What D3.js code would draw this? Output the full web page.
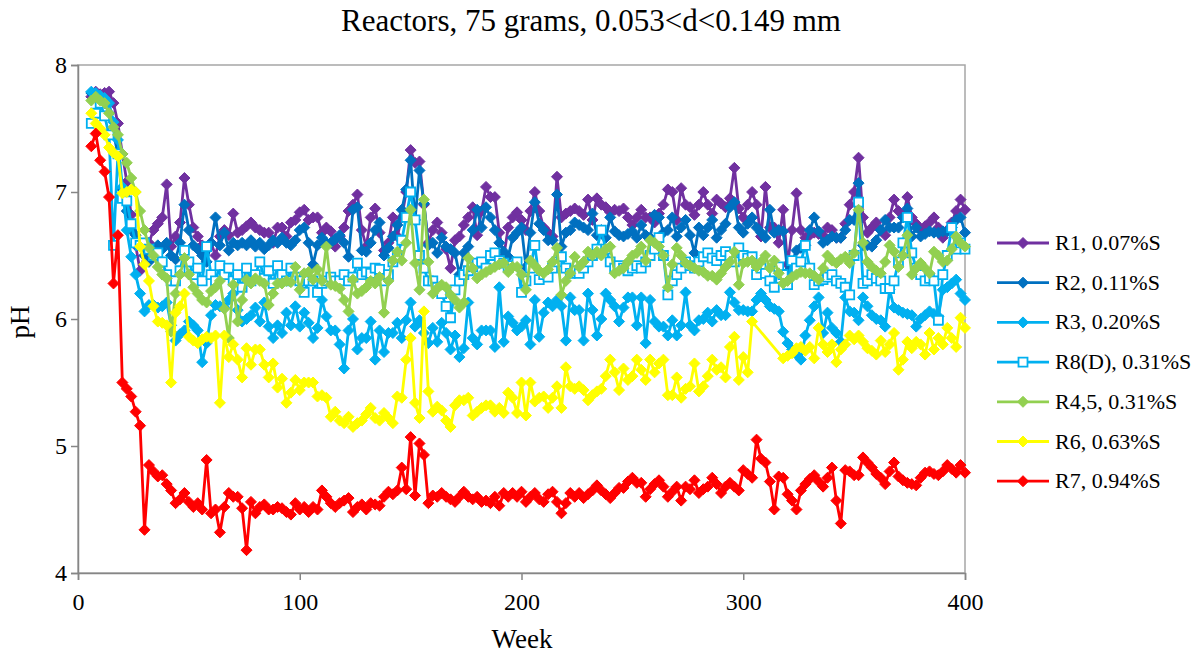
<!DOCTYPE html>
<html>
<head>
<meta charset="utf-8">
<script src="https://cdn.jsdelivr.net/npm/d3@7/dist/d3.min.js"></script>
<style>
  body { margin: 0; background: #fff; }
  text { font-family: "Liberation Serif", "Times New Roman", serif; fill: #000; }
</style>
</head>
<body>
<script>
// dimensions
var width = 1195;
var height = 658;

// sampling grid: weeks 6 .. 400, every 2 weeks
var weeks = d3.range(6, 401, 2);

var xTicks = [0, 100, 200, 300, 400];
var yTicks = [4, 5, 6, 7, 8];

// pH readings, one per week in the grid (null = no reading)
var r1 = [
  7.75, 7.79, 7.77, 7.78, 7.79, 7.7, 7.54, 7.3, 7.08, 6.82,
  6.58, 6.38, 6.5, 6.6, 6.7, 6.75, 6.8, 7.06, 6.57, 6.65,
  6.76, 7.11, 6.9, 6.72, 6.65, 6.58, 6.55, 6.6, 6.5, 6.65,
  6.7, 6.66, 6.83, 6.68, 6.7, 6.73, 6.76, 6.72, 6.7, 6.68,
  6.68, 6.6, 6.72, 6.72, 6.65, 6.76, 6.78, 6.84, 6.86, 6.78,
  6.8, 6.8, 6.68, 6.72, 6.69, 6.57, 6.65, 6.72, 6.85, 6.9,
  6.98, 6.7, 6.57, 6.8, 6.87, 6.68, 6.54, 6.6, 6.8, 6.65,
  6.8, 7.0, 7.33, 7.23, 7.24, 6.9, 6.6, 6.7, 6.76, 6.68,
  6.55, 6.4, 6.62, 6.65, 6.74, 6.8, 6.88, 6.66, 6.85, 7.04,
  6.96, 6.96, 6.68, 6.49, 6.72, 6.8, 6.84, 6.78, 6.7, 6.85,
  7.0, 6.85, 6.72, 6.68, 6.65, 7.12, 6.8, 6.83, 6.85, 6.87,
  6.85, 6.82, 6.94, 6.78, 6.95, 6.9, 6.88, 6.84, 6.86, 6.85,
  6.87, 6.8, 6.74, 6.8, 6.86, 6.8, 6.8, 6.76, 6.83, 6.9,
  7.02, 7.0, 6.78, 7.03, 6.9, 6.88, 6.82, 6.9, 7.0, 6.9,
  6.83, 6.94, 6.91, 6.88, 6.95, 7.19, 6.87, 6.8, 6.9, 7.0,
  6.9, 6.65, 7.04, 6.72, 6.72, 6.6, 6.86, 6.43, 6.7, 6.99,
  6.7, 6.64, 6.66, 6.68, 6.67, 6.66, 6.72, 6.7, 6.64, 6.64,
  6.75, 6.9, 7.0, 7.27, 6.8, 6.68, 6.72, 6.76, 6.7, 6.66,
  6.8, 6.94, 6.85, 6.8, 6.96, 6.8, 6.75, 6.7, 6.73, 6.76,
  6.8, 6.72, 6.64, 6.7, 6.76, 6.85, 6.94, 6.86
];

var r2 = [
  7.78, 7.76, 7.75, 7.7, 7.62, 7.46, 7.3, 7.02, 6.85, 6.7,
  6.66, 6.58, 6.5, 6.45, 6.52, 6.58, 6.55, 6.6, 6.5, 6.47,
  6.6, 6.9, 6.7, 6.58, 6.55, 6.5, 6.45, 6.6, 6.8, 6.58,
  6.68, 6.54, 6.6, 6.58, 6.6, 6.58, 6.62, 6.57, 6.6, 6.55,
  6.58, 6.62, 6.6, 6.64, 6.6, 6.58, 6.62, 6.7, 6.72, 6.6,
  6.43, 6.58, 6.64, 6.6, 6.6, 6.63, 6.66, 6.6, 6.49, 6.86,
  6.88, 6.54, 6.53, 6.6, 6.7, 6.76, 6.5, 6.56, 6.65, 6.74,
  6.86, 7.02, 7.25, 6.78, 7.17, 6.91, 6.58, 6.6, 6.52, 6.64,
  6.57, 6.55, 6.52, 6.35, 6.52, 6.57, 6.7, 6.86, 6.72, 6.88,
  6.8, 6.7, 6.6, 6.53, 6.49, 6.64, 6.68, 6.72, 6.41, 6.68,
  6.92, 6.75, 6.7, 6.62, 6.62, 6.98, 6.57, 6.68, 6.7, 6.76,
  6.74, 6.72, 6.7, 6.83, 6.66, 6.7, 6.64, 6.8, 6.69, 6.66,
  6.65, 6.67, 6.69, 6.64, 6.74, 6.66, 6.64, 6.82, 6.8, 6.68,
  6.7, 6.8, 6.65, 6.72, 6.78, 6.66, 6.52, 6.72, 6.66, 6.72,
  6.78, 6.64, 6.7, 6.75, 6.88, 6.92, 6.72, 6.68, 6.75, 6.8,
  6.72, 6.68, 6.64, 6.86, 6.68, 6.7, 6.69, 6.37, 6.45, 6.54,
  6.56, 6.58, 6.7, 6.8, 6.69, 6.6, 6.62, 6.65, 6.64, 6.64,
  6.7, 6.78, 6.78, 7.07, 6.58, 6.58, 6.57, 6.62, 6.7, 6.78,
  6.72, 6.72, 6.72, 6.8, 6.87, 6.65, 6.72, 6.65, 6.67, 6.69,
  6.68, 6.68, 6.69, 6.69, 6.72, 6.78, 6.8, 6.68
];

var r3 = [
  7.79, 7.78, 7.76, 7.74, 7.7, 7.55, 7.41, 7.04, 6.7, 6.49,
  6.35, 6.2, 6.06, 6.11, 6.11, 6.09, 6.1, 6.13, 5.95, 5.83,
  5.88, 5.91, 5.98, 5.95, 5.91, 5.66, 5.81, 6.03, 6.11, 6.1,
  6.09, 6.15, 6.2, 6.07, 5.98, 6.0, 6.03, 6.09, 5.98, 6.13,
  5.94, 5.85, 5.95, 5.89, 6.05, 5.95, 6.1, 5.94, 6.05, 5.97,
  5.85, 5.93, 6.15, 6.02, 5.91, 5.91, 5.8, 5.61, 5.91, 6.0,
  5.76, 5.85, 5.85, 5.98, 5.68, 5.91, 5.74, 5.89, 5.89, 5.97,
  5.85, 5.99, 6.13, 5.94, 5.99, 5.89, 5.81, 5.93, 5.82, 5.97,
  5.89, 5.76, 5.87, 5.7, 5.77, 6.13, 5.85, 5.8, 5.91, 5.91,
  5.91, 5.78, 6.25, 5.82, 6.02, 5.97, 5.91, 5.94, 5.99, 5.8,
  6.15, 5.86, 6.05, 6.13, 6.1, 6.15, 6.1, 5.83, 6.17, 6.07,
  6.07, 5.83, 6.2, 6.07, 5.87, 6.0, 6.2, 6.15, 6.1, 5.98,
  6.09, 6.17, 6.17, 5.95, 6.17, 5.81, 6.15, 5.98, 5.94, 5.94,
  5.87, 5.99, 5.87, 5.95, 6.21, 5.95, 5.91, 5.99, 6.0, 6.05,
  5.98, 6.07, 6.03, 6.03, 6.21, 6.13, 6.07, 6.07, 6.06, 6.06,
  6.15, 6.2, 6.15, 6.1, 6.08, 6.06, 5.9, 5.81, 5.76, 5.72,
  5.68, 5.87, 5.99, 6.1, 6.17, 5.89, 6.05, 5.93, 5.89, 5.82,
  6.17, 6.06, 6.05, 5.99, 6.17, 6.1, 6.03, 6.0, 5.99, 5.94,
  6.23, 6.09, 6.07, 6.05, 6.04, 6.03, 5.94, 6.0, 6.03, 6.06,
  6.04, 6.02, 6.23, 6.25, 6.28, 6.31, 6.2, 6.15
];

var r8 = [
  7.54, 7.62, 7.7, 7.6, 7.45, 6.58, 7.3, 6.95, 6.93, 6.75,
  6.6, 6.58, 6.6, 6.55, 6.5, 6.52, 6.45, 6.35, 6.3, 6.3,
  6.38, 6.54, 6.45, 6.35, 6.4, 6.3, 6.57, 6.35, 6.3, 6.42,
  6.35, 6.4, 6.3, 6.35, 6.25, 6.4, 6.3, 6.35, 6.45, 6.32,
  6.38, 6.28, 6.42, 6.35, 6.3, 6.4, 6.33, 6.3, 6.21, 6.3,
  6.3, 6.21, 6.28, 6.3, 6.33, 6.3, 6.3, 6.35, 6.3, 6.33,
  6.44, 6.35, 6.37, 6.36, 6.4, 6.39, 6.3, 6.35, 6.45, 6.5,
  6.62, 6.8, 7.0, 6.78, 6.5, 6.4, 6.3, 6.3, 6.25, 6.2,
  6.1, 6.01, 6.23, 6.3, 6.35, 6.38, 6.41, 6.44, 6.45, 6.4,
  6.5, 6.52, 6.46, 6.44, 6.41, 6.42, 6.45, 6.21, 6.3, 6.4,
  6.58, 6.31, 6.35, 6.33, 6.4, 6.45, 6.49, 6.4, 6.36, 6.38,
  6.36, 6.4, 6.45, 6.5, 6.55, 6.7, 6.55, 6.45, 6.4, 6.42,
  6.4, 6.38, 6.4, 6.42, 6.4, 6.45, 6.5, 6.55, 6.64, 6.5,
  6.19, 6.3, 6.35, 6.4, 6.45, 6.42, 6.4, 6.45, 6.49, 6.52,
  6.48, 6.46, 6.5, 6.53, 6.5, 6.45, 6.56, 6.5, 6.48, 6.49,
  6.35, 6.4, 6.36, 6.3, 6.25, 6.41, 6.35, 6.27, 6.46, 6.4,
  6.45, 6.58, 6.4, 6.27, 6.3, 6.31, 6.33, 6.35, 6.3, 6.28,
  6.25, 6.19, 6.5, 6.92, 6.28, 6.3, 6.35, 6.32, 6.3, 6.24,
  6.24, 6.3, 6.45, 6.6, 6.8, 6.52, 6.4, 6.35, 6.3, 6.32,
  6.3, 5.99, 6.35, 6.5, 6.72, 6.55, 6.6, 6.55
];

var r45 = [
  7.72, 7.75, 7.72, 7.7, 7.62, 7.51, 7.45, 7.3, 7.23, 7.11,
  7.0, 6.85, 6.7, 6.56, 6.5, 6.41, 6.35, 6.32, 5.9, 6.2,
  6.35, 6.48, 6.35, 6.25, 6.2, 6.15, 6.13, 6.22, 6.25, 6.3,
  6.08, 5.85, 6.27, 5.98, 6.15, 6.31, 6.28, 6.32, 6.3, 6.28,
  6.11, 6.2, 6.28, 6.28, 6.3, 6.29, 6.41, 6.23, 6.36, 6.37,
  6.31, 6.39, 6.3, 6.57, 6.27, 6.26, 6.24, 6.15, 6.06, 6.31,
  6.2, 6.22, 6.25, 6.3, 6.28, 6.33, 6.05, 6.3, 6.46, 6.53,
  6.46, 6.6, 6.86, 6.44, 6.23, 6.94, 6.45, 6.2, 6.24, 6.27,
  6.25, 6.19, 6.15, 6.09, 6.13, 6.48, 6.4, 6.32, 6.35, 6.37,
  6.39, 6.41, 6.43, 6.44, 6.37, 6.41, 6.41, 6.35, 6.23, 6.46,
  6.42, 6.38, 6.36, 6.39, 6.45, 6.56, 6.19, 6.3, 6.36, 6.49,
  6.41, 6.45, 6.53, 6.5, 6.53, 6.5, 6.55, 6.57, 6.36, 6.38,
  6.4, 6.45, 6.5, 6.52, 6.57, 6.46, 6.62, 6.6, 6.57, 6.5,
  6.25, 6.43, 6.56, 6.5, 6.44, 6.42, 6.4, 6.38, 6.37, 6.34,
  6.34, 6.31, 6.36, 6.41, 6.45, 6.53, 6.27, 6.44, 6.45, 6.46,
  6.41, 6.45, 6.5, 6.4, 6.46, 6.36, 6.28, 6.3, 6.33, 6.35,
  6.37, 6.36, 6.36, 6.34, 6.31, 6.4, 6.5, 6.46, 6.44, 6.47,
  6.49, 6.44, 6.52, 6.86, 6.6, 6.45, 6.41, 6.38, 6.36, 6.45,
  6.58, 6.53, 6.41, 6.5, 6.66, 6.35, 6.4, 6.44, 6.4, 6.36,
  6.53, 6.5, 6.45, 6.46, 6.55, 6.65, 6.6, 6.57
];

var r6 = [
  7.62, 7.54, 7.5, 7.45, 7.35, 7.31, 7.28, 6.99, 7.0, 7.02,
  7.0, 6.57, 6.43, 6.3, 6.1, 5.98, 5.97, 5.95, 5.5, 6.05,
  6.1, 6.2, 5.86, 5.83, 5.81, 5.84, 5.86, 5.85, 5.87, 5.34,
  5.87, 5.7, 5.8, 5.68, 5.54, 5.77, 5.64, 5.76, 5.76, 5.64,
  5.54, 5.65, 5.46, 5.53, 5.34, 5.42, 5.52, 5.44, 5.5, 5.5,
  5.5, 5.39, 5.4, 5.38, 5.23, 5.27, 5.2, 5.18, 5.23, 5.15,
  5.18, 5.2, 5.25, 5.3, 5.22, 5.2, 5.26, 5.22, 5.18, 5.39,
  5.38, 5.68, 5.85, 5.34, 5.22, 6.06, 5.43, 5.27, 5.31, 5.28,
  5.2, 5.15, 5.32, 5.36, 5.36, 5.38, 5.24, 5.27, 5.3, 5.32,
  5.32, 5.27, 5.3, 5.26, 5.42, 5.38, 5.26, 5.5, 5.24, 5.5,
  5.35, 5.38, 5.39, 5.3, 5.38, 5.47, 5.3, 5.62, 5.47, 5.45,
  5.47, 5.44, 5.36, 5.4, 5.43, 5.45, 5.55, 5.68, 5.58, 5.44,
  5.61, 5.52, 5.55, 5.68, 5.6, 5.52, 5.68, 5.58, 5.65, 5.68,
  5.4, 5.4, 5.54, 5.38, 5.45, 5.47, 5.65, 5.43, 5.47, 5.55,
  5.68, 5.6, 5.62, 5.54, 5.78, 5.86, 5.52, 5.7, 5.58, 5.98,
  null, null, null, null, null, null, 5.69, 5.71, 5.73, 5.77,
  5.78, 5.75, 5.78, 5.69, 5.93, 5.8, 5.74, 5.8, 5.66, 5.76,
  5.8, 5.87, 5.84, 5.87, 5.82, 5.77, 5.75, 5.72, 5.83, 5.74,
  5.8, 5.89, 5.6, 5.68, 5.82, 5.77, 5.82, 5.8, 5.72, 5.89,
  5.76, 5.85, 5.8, 5.93, 5.85, 5.78, 6.01, 5.93
];

var r7 = [
  7.36, 7.46, 7.25, 7.16, 6.96, 6.28, 6.66, 5.5, 5.45, 5.39,
  5.27, 5.16, 4.34, 4.85, 4.8, 4.76, 4.77, 4.7, 4.65, 4.55,
  4.58, 4.63, 4.56, 4.52, 4.55, 4.5, 4.89, 4.47, 4.5, 4.32,
  4.52, 4.63, 4.6, 4.6, 4.51, 4.18, 4.56, 4.47, 4.52, 4.54,
  4.5, 4.5, 4.52, 4.51, 4.48, 4.46, 4.55, 4.5, 4.52, 4.48,
  4.52, 4.5, 4.65, 4.6, 4.55, 4.52, 4.55, 4.57, 4.59, 4.48,
  4.52, 4.54, 4.5, 4.55, 4.54, 4.53, 4.6, 4.64, 4.62, 4.65,
  4.83, 4.66, 5.07, 4.61, 5.02, 4.93, 4.55, 4.61, 4.6, 4.63,
  4.6, 4.58, 4.56, 4.6, 4.64, 4.6, 4.58, 4.6, 4.56, 4.57,
  4.55, 4.6, 4.53, 4.63, 4.6, 4.63, 4.6, 4.64, 4.56, 4.6,
  4.63, 4.58, 4.56, 4.62, 4.64, 4.56, 4.47, 4.55, 4.63, 4.6,
  4.63, 4.59, 4.62, 4.65, 4.69, 4.65, 4.62, 4.59, 4.63, 4.67,
  4.67, 4.72, 4.75, 4.71, 4.71, 4.6, 4.66, 4.7, 4.73, 4.68,
  4.6, 4.64, 4.68, 4.57, 4.68, 4.66, 4.73, 4.63, 4.66, 4.68,
  4.75, 4.7, 4.63, 4.68, 4.71, 4.68, 4.65, 4.81, 4.78, 4.75,
  5.05, 4.9, 4.87, 4.72, 4.5, 4.76, 4.75, 4.62, 4.57, 4.5,
  4.65, 4.7, 4.74, 4.77, 4.72, 4.68, 4.75, 4.83, 4.57, 4.39,
  4.81, 4.8, 4.77, 4.77, 4.91, 4.87, 4.83, 4.78, 4.75, 4.7,
  4.8, 4.87, 4.76, 4.73, 4.71, 4.7, 4.69, 4.75, 4.79, 4.8,
  4.78, 4.77, 4.8, 4.85, 4.82, 4.79, 4.85, 4.79
];

var series = [
  { name: "R1, 0.07%S",    values: r1,  color: "#7030A0", marker: "diamond" },
  { name: "R2, 0.11%S",    values: r2,  color: "#0070C0", marker: "diamond" },
  { name: "R3, 0.20%S",    values: r3,  color: "#00B0F0", marker: "diamond" },
  { name: "R8(D), 0.31%S", values: r8,  color: "#00B0F0", marker: "square" },
  { name: "R4,5, 0.31%S",  values: r45, color: "#92D050", marker: "diamond" },
  { name: "R6, 0.63%S",    values: r6,  color: "#FFFF00", marker: "diamond" },
  { name: "R7, 0.94%S",    values: r7,  color: "#FF0000", marker: "diamond" }
];

var svg = d3.select("body")
    .append("svg")
    .attr("width", width)
    .attr("height", height);

var x = d3.scaleLinear().domain([0, 400]).range([78, 965]);
var y = d3.scaleLinear().domain([4, 8]).range([573, 65]);

// plot area border
svg.append("rect")
    .attr("x", x(0))
    .attr("y", y(8))
    .attr("width", x(400) - x(0))
    .attr("height", y(4) - y(8))
    .attr("fill", "none")
    .attr("stroke", "#a6a6a6")
    .attr("stroke-width", 1.5);

// axes
var xAxis = svg.append("g")
    .attr("transform", "translate(0," + y(4) + ")")
    .call(d3.axisBottom(x).tickValues(xTicks).tickSize(7).tickPadding(13).tickFormat(d3.format("d")));

var yAxis = svg.append("g")
    .attr("transform", "translate(" + x(0) + ",0)")
    .call(d3.axisLeft(y).tickValues(yTicks).tickSize(7).tickPadding(4).tickFormat(d3.format("d")));

[xAxis, yAxis].forEach(function(g) {
    g.select(".domain").attr("stroke", "#868686").attr("stroke-width", 1.5);
    g.selectAll(".tick line").attr("stroke", "#868686").attr("stroke-width", 1.5);
    g.selectAll(".tick text")
        .style("font-family", "'Liberation Serif', serif")
        .style("font-size", "24px")
        .attr("fill", "#000");
});

// titles
svg.append("text")
    .attr("x", 591)
    .attr("y", 31)
    .attr("text-anchor", "middle")
    .style("font-size", "31px")
    .text("Reactors, 75 grams, 0.053<d<0.149 mm");

svg.append("text")
    .attr("x", 522)
    .attr("y", 648)
    .attr("text-anchor", "middle")
    .style("font-size", "27px")
    .text("Week");

svg.append("text")
    .attr("transform", "translate(29,322) rotate(-90)")
    .attr("text-anchor", "middle")
    .style("font-size", "27px")
    .text("pH");

function markerPath(type) {
    if (type === "square") {
        return "M-4.5,-4.5L4.5,-4.5L4.5,4.5L-4.5,4.5Z";
    }
    return "M0,-5.5L5.5,0L0,5.5L-5.5,0Z";
}

function drawMarker(g, type, color) {
    g.append("path")
        .attr("d", markerPath(type))
        .attr("fill", type === "square" ? "#fff" : color)
        .attr("stroke", color)
        .attr("stroke-width", type === "square" ? 1.8 : 1);
}

var line = d3.line()
    .x(function(d) { return x(d.week); })
    .y(function(d) { return y(d.ph); });

series.forEach(function(s) {
    var pts = [];
    s.values.forEach(function(v, i) {
        if (v !== null) pts.push({ week: weeks[i], ph: v });
    });

    var g = svg.append("g");

    g.append("path")
        .datum(pts)
        .attr("d", line)
        .attr("fill", "none")
        .attr("stroke", s.color)
        .attr("stroke-width", 2.8)
        .attr("stroke-linejoin", "round");

    g.selectAll(".pt")
        .data(pts)
        .enter()
        .append("g")
        .attr("class", "pt")
        .attr("transform", function(d) {
            return "translate(" + x(d.week) + "," + y(d.ph) + ")";
        })
        .each(function() {
            drawMarker(d3.select(this), s.marker, s.color);
        });
});

// legend
var legend = svg.append("g");
series.forEach(function(s, i) {
    var ly = 243 + i * 39.7;
    var item = legend.append("g");
    item.append("line")
        .attr("x1", 997)
        .attr("x2", 1049)
        .attr("y1", ly)
        .attr("y2", ly)
        .attr("stroke", s.color)
        .attr("stroke-width", 2.8);
    var m = item.append("g").attr("transform", "translate(1023," + ly + ")");
    drawMarker(m, s.marker, s.color);
    item.append("text")
        .attr("x", 1055)
        .attr("y", ly + 7)
        .style("font-size", "22px")
        .text(s.name);
});
</script>
</body>
</html>
